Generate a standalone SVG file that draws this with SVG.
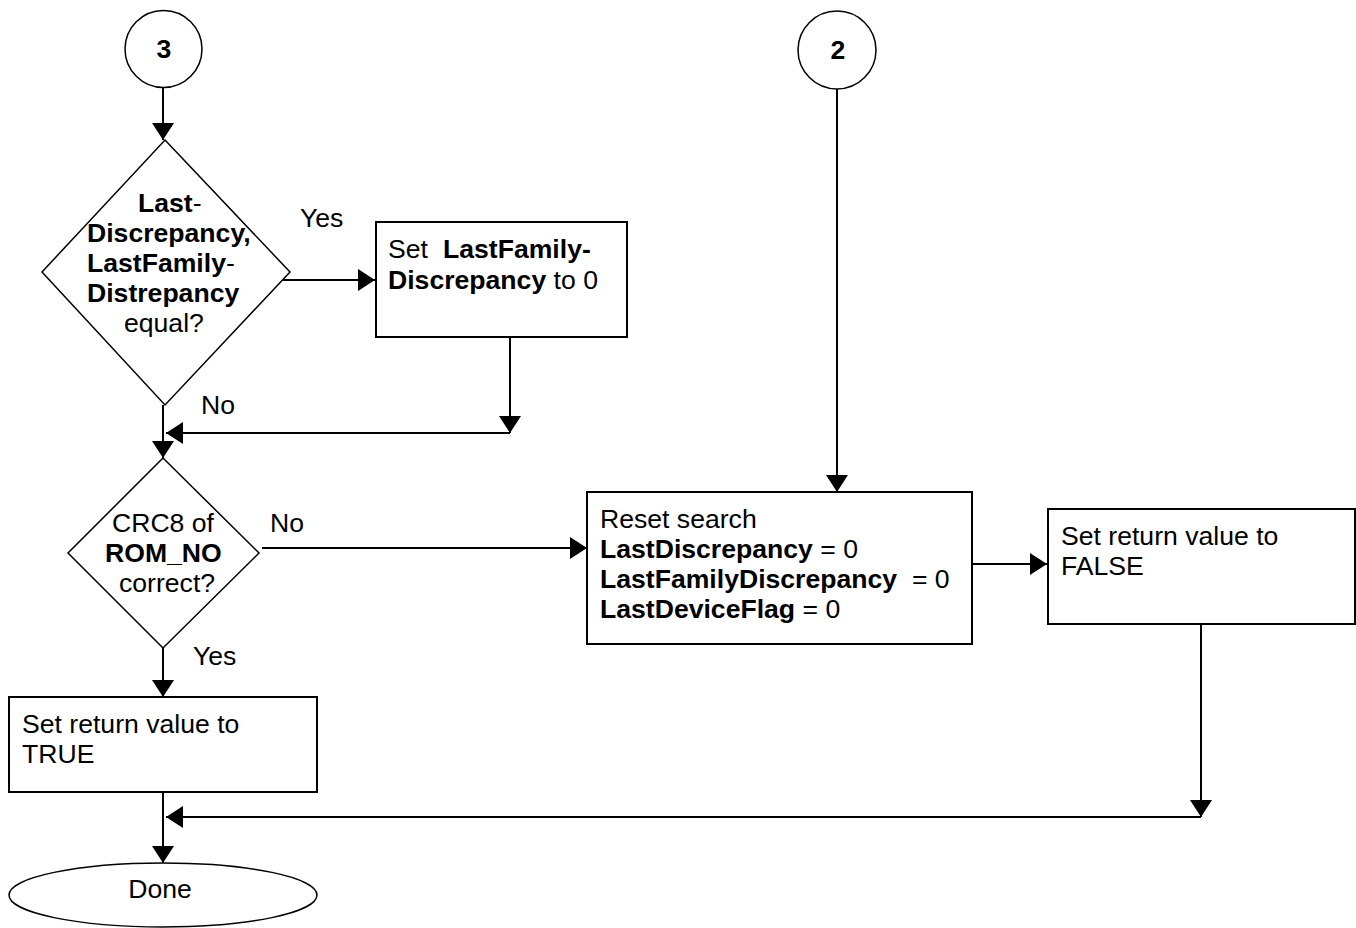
<svg xmlns="http://www.w3.org/2000/svg" width="1356" height="928" viewBox="0 0 1356 928">
<defs>
<style>
text{font-family:"Liberation Sans",Arial,sans-serif;font-size:26.6px;fill:#000}
.b{font-weight:bold}
.shape{fill:#fff;stroke:#000;stroke-width:2}
.thin{fill:#fff;stroke:#000;stroke-width:1.5}
.conn{fill:none;stroke:#000;stroke-width:2}
</style>
<marker id="ah" viewBox="0 0 17 22" refX="17" refY="11" markerWidth="17" markerHeight="22" markerUnits="userSpaceOnUse" orient="auto">
<path d="M0,0 L17,11 L0,22 Z" fill="#000"/>
</marker>
</defs>
<rect width="1356" height="928" fill="#fff"/>
<g id="connectors">
<path class="conn" d="M163,88 V140" marker-end="url(#ah)"/>
<path class="conn" d="M283,280 H375" marker-end="url(#ah)"/>
<path class="conn" d="M510,337 V433" marker-end="url(#ah)"/>
<path class="conn" d="M510,433 H166" marker-end="url(#ah)"/>
<path class="conn" d="M163,405 V458" marker-end="url(#ah)"/>
<path class="conn" d="M262,548 H587" marker-end="url(#ah)"/>
<path class="conn" d="M837,89 V492" marker-end="url(#ah)"/>
<path class="conn" d="M972,564 H1047" marker-end="url(#ah)"/>
<path class="conn" d="M1201,624 V817" marker-end="url(#ah)"/>
<path class="conn" d="M1201,817 H166" marker-end="url(#ah)"/>
<path class="conn" d="M163,648 V697" marker-end="url(#ah)"/>
<path class="conn" d="M163,792 V863" marker-end="url(#ah)"/>
<text x="300" y="227">Yes</text>
<text x="201" y="414">No</text>
<text x="270" y="532">No</text>
<text x="193" y="665">Yes</text>
</g>
<g id="n3">
<circle class="thin" cx="163.5" cy="49" r="38.5"/>
<text class="b" x="164" y="58" text-anchor="middle">3</text>
</g>
<g id="n2">
<circle class="thin" cx="837" cy="50" r="39"/>
<text class="b" x="838" y="59" text-anchor="middle">2</text>
</g>
<g id="d1">
<path class="thin" d="M165,140 L290,272 L165,405 L42,272 Z"/>
<text x="138" y="212"><tspan class="b">Last</tspan>-</text>
<text class="b" x="87" y="242">Discrepancy,</text>
<text x="87" y="272"><tspan class="b">LastFamily</tspan>-</text>
<text class="b" x="87" y="302">Distrepancy</text>
<text x="124" y="332">equal?</text>
</g>
<g id="b1">
<rect class="shape" x="376" y="222" width="251" height="115"/>
<text x="388" y="258">Set <tspan class="b" x="443">LastFamily-</tspan></text>
<text x="388" y="289"><tspan class="b">Discrepancy</tspan> to 0</text>
</g>
<g id="d2">
<path class="thin" d="M163,458 L259,553 L163,648 L68,553 Z"/>
<text x="112" y="532">CRC8 of</text>
<text class="b" x="105" y="562">ROM_NO</text>
<text x="119" y="592">correct?</text>
</g>
<g id="reset">
<rect class="shape" x="587" y="492" width="385" height="152"/>
<text x="600" y="528">Reset search</text>
<text x="600" y="558"><tspan class="b">LastDiscrepancy</tspan> = 0</text>
<text x="600" y="588" xml:space="preserve"><tspan class="b">LastFamilyDiscrepancy</tspan>  = 0</text>
<text x="600" y="618"><tspan class="b">LastDeviceFlag</tspan> = 0</text>
</g>
<g id="false">
<rect class="shape" x="1048" y="509" width="307" height="115"/>
<text x="1061" y="545">Set return value to</text>
<text x="1061" y="575">FALSE</text>
</g>
<g id="true">
<rect class="shape" x="9" y="697" width="308" height="95"/>
<text x="22" y="733">Set return value to</text>
<text x="22" y="763">TRUE</text>
</g>
<g id="done">
<ellipse class="thin" cx="163" cy="895" rx="154" ry="32"/>
<text x="160" y="898" text-anchor="middle">Done</text>
</g>
</svg>
